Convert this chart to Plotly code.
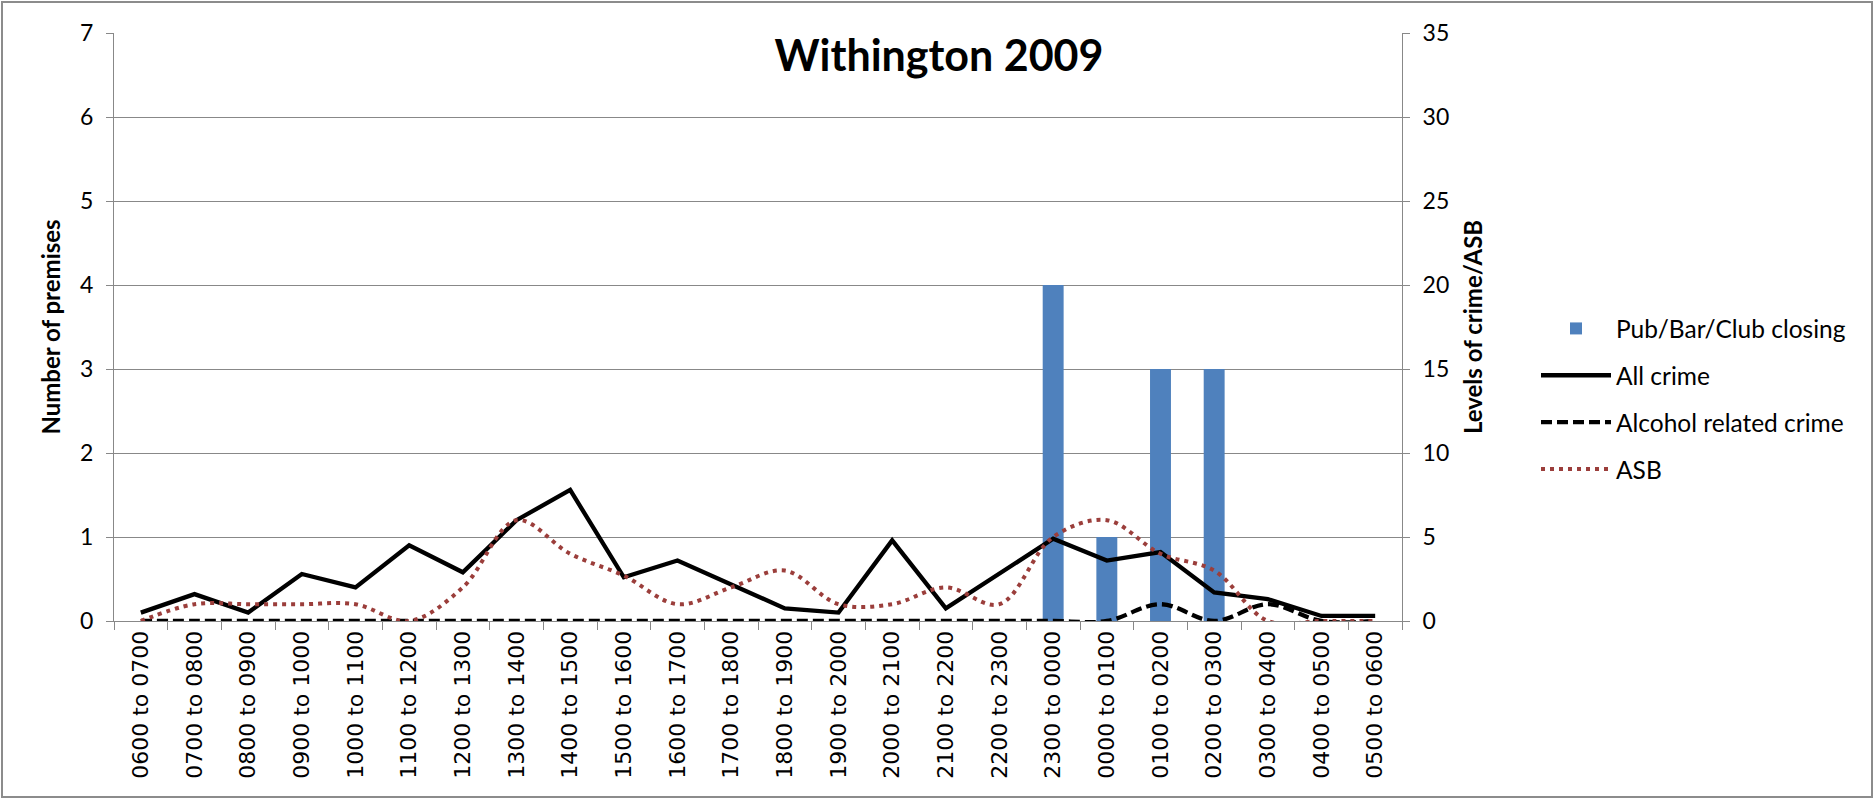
import plotly.graph_objects as go

# Hourly bands, midnight-to-midnight starting at 06:00
hours = [
    "0600 to 0700", "0700 to 0800", "0800 to 0900", "0900 to 1000",
    "1000 to 1100", "1100 to 1200", "1200 to 1300", "1300 to 1400",
    "1400 to 1500", "1500 to 1600", "1600 to 1700", "1700 to 1800",
    "1800 to 1900", "1900 to 2000", "2000 to 2100", "2100 to 2200",
    "2200 to 2300", "2300 to 0000", "0000 to 0100", "0100 to 0200",
    "0200 to 0300", "0300 to 0400", "0400 to 0500", "0500 to 0600",
]

# Number of premises closing in each band (left axis)
closing = [0, 0, 0, 0, 0, 0, 0, 0, 0, 0, 0, 0,
           0, 0, 0, 0, 0, 4, 1, 3, 3, 0, 0, 0]

# Crime / ASB levels (right axis)
all_crime = [0.5, 1.6, 0.5, 2.8, 2.0, 4.5, 2.9, 6.0, 7.8, 2.6, 3.6, 2.2,
             0.75, 0.5, 4.8, 0.75, 2.85, 4.9, 3.6, 4.1, 1.7, 1.3, 0.3, 0.3]
alcohol_crime = [0, 0, 0, 0, 0, 0, 0, 0, 0, 0, 0, 0,
                 0, 0, 0, 0, 0, 0, 0, 1, 0, 1, 0, 0]
asb = [0, 1, 1, 1, 1, 0, 2, 6, 4, 2.7, 1, 2,
       3, 1, 1, 2, 1, 5, 6, 4, 3, 0, 0, 0]

W, H = 1874, 799
ML, MR, MT, MB = 114, 472, 33, 178
GRID = "#888888"
AXIS_FONT = "Lato, Carlito, Calibri, sans-serif"

fig = go.Figure()

fig.add_trace(go.Bar(
    x=hours, y=[v if v else None for v in closing],
    name="Pub/Bar/Club closing",
    marker=dict(color="#4F81BD", line=dict(width=0)),
    yaxis="y", legendgroup="a",
))
fig.add_trace(go.Scatter(
    x=hours, y=all_crime, name="All crime", mode="lines",
    line=dict(color="#000000", width=4.3),
    yaxis="y2", legendgroup="b", cliponaxis=False,
))
fig.add_trace(go.Scatter(
    x=hours, y=alcohol_crime, name="Alcohol related crime", mode="lines",
    line=dict(color="#000000", width=4.3, dash="11px,5px", shape="spline"),
    yaxis="y2", legendgroup="c", cliponaxis=False,
))
fig.add_trace(go.Scatter(
    x=hours, y=asb, name="ASB", mode="lines",
    line=dict(color="#9B3E3B", width=4, dash="4px,5px", shape="spline"),
    yaxis="y2", legendgroup="d", cliponaxis=False,
))

pw = W - ML - MR
ph = H - MT - MB

fig.update_layout(
    width=W, height=H,
    margin=dict(l=ML, r=MR, t=MT, b=MB, pad=0),
    paper_bgcolor="white", plot_bgcolor="white",
    font=dict(family=AXIS_FONT, color="#000000"),
    bargap=0.61,
    title=dict(
        text="<b>Withington 2009</b>",
        font=dict(family=AXIS_FONT, size=43, color="#000000"),
        xref="paper", x=(939 - ML) / pw, xanchor="center",
        yref="container", y=1 - 56 / H, yanchor="middle",
    ),
    xaxis=dict(
        type="category", categoryorder="array", categoryarray=hours,
        tickson="boundaries", ticks="outside", ticklen=8, tickcolor=GRID,
        showline=True, linecolor=GRID, linewidth=1,
        showgrid=False, tickangle=-90, automargin=False,
        tickfont=dict(family="DejaVu Sans, Verdana, sans-serif", size=22, color="#000000"),
    ),
    yaxis=dict(
        range=[0, 7], dtick=1, showgrid=True, gridcolor=GRID, gridwidth=1,
        zeroline=False, showline=True, linecolor=GRID, linewidth=1,
        ticks="outside", ticklen=7, tickcolor=GRID, automargin=False,
        ticklabelstandoff=8,
        tickfont=dict(family=AXIS_FONT, size=23, color="#000000"),
        title=dict(text="<b>Number of premises</b>", standoff=12,
                   font=dict(family=AXIS_FONT, size=24, color="#000000")),
    ),
    yaxis2=dict(
        range=[0, 35], dtick=5, overlaying="y", side="right",
        showgrid=False, zeroline=False, showline=True, linecolor=GRID, linewidth=1,
        ticks="outside", ticklen=7, tickcolor=GRID, automargin=False,
        ticklabelstandoff=8,
        tickfont=dict(family=AXIS_FONT, size=23, color="#000000"),
        title=dict(text="<b>Levels of crime/ASB</b>", standoff=16,
                   font=dict(family=AXIS_FONT, size=24, color="#000000")),
    ),
    legend=dict(
        x=(1536 - ML) / pw, xanchor="left",
        y=(H - MB - 306) / ph, yanchor="top",
        font=dict(family=AXIS_FONT, size=24.5, color="#000000"),
        itemwidth=70, tracegroupgap=12,
        bgcolor="rgba(0,0,0,0)",
    ),
    showlegend=True,
)

# Outer frame round the whole chart area
fig.add_shape(
    type="rect", xref="paper", yref="paper",
    x0=(2 - ML) / pw, x1=(W - 2 - ML) / pw,
    y0=-(MB - 2) / ph, y1=1 + (MT - 2) / ph,
    line=dict(color="#8C8C8C", width=2), fillcolor="rgba(0,0,0,0)", layer="below",
)

fig.write_html("out.html")
